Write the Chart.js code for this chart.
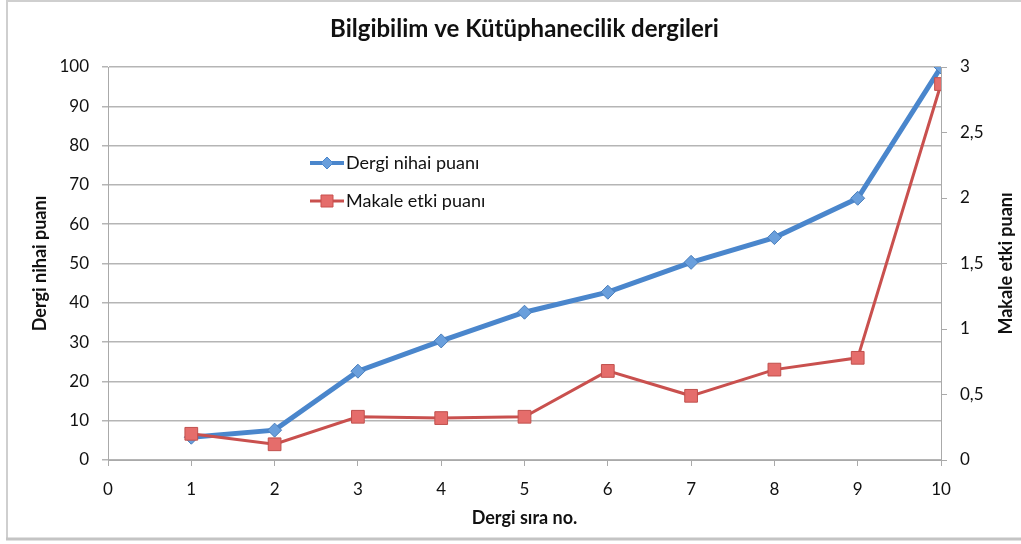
<!DOCTYPE html>
<html>
<head>
<meta charset="utf-8">
<script src="https://cdn.jsdelivr.net/npm/chart.js@4/dist/chart.umd.min.js"></script>
<style>
  html, body { margin: 0; padding: 0; background: #fff; }
  #wrap { width: 1021px; height: 544px; position: relative; }
</style>
</head>
<body>
<div id="wrap"><canvas id="chart"></canvas></div>
<script>
// data
const siraNo = [1, 2, 3, 4, 5, 6, 7, 8, 9, 10];
const dergiNihaiPuani = [5.8, 7.6, 22.6, 30.3, 37.6, 42.7, 50.3, 56.6, 66.6, 100];
const makaleEtkiPuani = [0.20, 0.12, 0.33, 0.32, 0.33, 0.68, 0.49, 0.69, 0.78, 2.87];

const chartTitle = 'Bilgibilim ve Kütüphanecilik dergileri';
const xTitle = 'Dergi sıra no.';
const yTitle = 'Dergi nihai puanı';
const y2Title = 'Makale etki puanı';

const BLUE = '#4A86CC';
const BLUE_PT = '#6A9FDC';
const RED = '#C9504E';
const RED_PT = '#E56D6B';
const FONT = 'Lato, "Open Sans", sans-serif';

const toPoints = (ys) => siraNo.map((x, i) => ({ x: x, y: ys[i] }));
const comma = (v) => String(v).replace('.', ',');

// white page with the grey frame of the chart box
const framePlugin = {
    id: 'frame',
    beforeDraw(chart) {
        const ctx = chart.ctx;
        ctx.save();
        ctx.fillStyle = '#fff';
        ctx.fillRect(0, 0, chart.width, chart.height);
        ctx.strokeStyle = '#cfcfcf';
        ctx.lineWidth = 2;
        ctx.beginPath();
        ctx.moveTo(7, 538);
        ctx.lineTo(7, 1);
        ctx.lineTo(chart.width, 1);
        ctx.stroke();
        ctx.lineWidth = 3;
        ctx.strokeStyle = '#c4c4c4';
        ctx.beginPath();
        ctx.moveTo(6, 539);
        ctx.lineTo(chart.width, 539);
        ctx.stroke();
        ctx.restore();
    }
};

// title over the plot, legend inside the plot, right axis title reading upwards
const extrasPlugin = {
    id: 'extras',
    afterDraw(chart) {
        const ctx = chart.ctx;
        const area = chart.chartArea;
        ctx.save();
        ctx.fillStyle = '#111';
        ctx.font = 'bold 24px ' + FONT;
        ctx.textAlign = 'center';
        ctx.textBaseline = 'alphabetic';
        ctx.fillText(chartTitle, (area.left + area.right) / 2, 37);

        const items = [
            { label: yTitle, y: 163, color: BLUE, fill: BLUE_PT, width: 4, shape: 'diamond' },
            { label: y2Title, y: 201, color: RED, fill: RED_PT, width: 3, shape: 'square' }
        ];
        items.forEach(it => {
            ctx.strokeStyle = it.color;
            ctx.lineWidth = it.width;
            ctx.beginPath();
            ctx.moveTo(310, it.y);
            ctx.lineTo(344, it.y);
            ctx.stroke();
            ctx.fillStyle = it.fill;
            ctx.lineWidth = 1;
            ctx.beginPath();
            if (it.shape === 'diamond') {
                ctx.moveTo(327, it.y - 6);
                ctx.lineTo(333, it.y);
                ctx.lineTo(327, it.y + 6);
                ctx.lineTo(321, it.y);
                ctx.closePath();
            } else {
                ctx.rect(321, it.y - 6, 12, 12);
            }
            ctx.fill();
            ctx.stroke();
            ctx.fillStyle = '#111';
            ctx.font = '18px ' + FONT;
            ctx.textAlign = 'left';
            ctx.textBaseline = 'middle';
            ctx.fillText(it.label, 346, it.y);
        });

        ctx.translate(1006, (area.top + area.bottom) / 2);
        ctx.rotate(-Math.PI / 2);
        ctx.font = 'bold 18px ' + FONT;
        ctx.textAlign = 'center';
        ctx.textBaseline = 'middle';
        ctx.fillStyle = '#111';
        ctx.fillText(y2Title, 0, 0);
        ctx.restore();
    }
};

const ctx = document.getElementById('chart');

new Chart(ctx, {
    type: 'line',
    data: {
        datasets: [{
            label: y2Title,
            data: toPoints(makaleEtkiPuani),
            yAxisID: 'y2',
            borderColor: RED,
            borderWidth: 3,
            pointStyle: 'rect',
            pointRadius: 9,
            pointBackgroundColor: RED_PT,
            pointBorderColor: '#C0504D',
            pointBorderWidth: 1,
            tension: 0,
            order: 0
        }, {
            label: yTitle,
            data: toPoints(dergiNihaiPuani),
            yAxisID: 'y',
            borderColor: BLUE,
            borderWidth: 5,
            pointStyle: 'rectRot',
            pointRadius: 7,
            pointBackgroundColor: BLUE_PT,
            pointBorderColor: '#4A7EBB',
            pointBorderWidth: 1,
            tension: 0,
            order: 1
        }]
    },
    options: {
        responsive: true,
        maintainAspectRatio: false,
        animation: false,
        layout: { padding: { top: 67, left: 0, right: 0, bottom: 0 } },
        plugins: {
            legend: { display: false },
            tooltip: { enabled: false },
            title: { display: false }
        },
        scales: {
            x: {
                type: 'linear',
                min: 0,
                max: 10,
                ticks: {
                    stepSize: 1,
                    color: '#111',
                    padding: 13,
                    font: { family: FONT, size: 17 }
                },
                grid: { drawOnChartArea: false, drawTicks: true, tickLength: 6, color: '#aaa' },
                border: { color: '#aaa', width: 1 },
                title: {
                    display: true,
                    text: xTitle,
                    color: '#111',
                    font: { family: FONT, size: 18, weight: 'bold', lineHeight: 1.2 },
                    padding: { top: 0, bottom: 15 }
                },
                afterFit: (scale) => { scale.height = 84; }
            },
            y: {
                position: 'left',
                min: 0,
                max: 100,
                ticks: {
                    stepSize: 10,
                    color: '#111',
                    padding: 13,
                    font: { family: FONT, size: 17 }
                },
                grid: { color: '#b5b5b5', lineWidth: 1.5, tickLength: 6 },
                border: { color: '#aaa', width: 1 },
                title: {
                    display: true,
                    text: yTitle,
                    color: '#111',
                    font: { family: FONT, size: 18, weight: 'bold', lineHeight: 1.2 },
                    padding: { top: 29, bottom: 0 }
                },
                afterFit: (scale) => { scale.width = 108; }
            },
            y2: {
                position: 'right',
                min: 0,
                max: 3,
                ticks: {
                    stepSize: 0.5,
                    color: '#111',
                    padding: 13,
                    font: { family: FONT, size: 17 },
                    callback: (v) => comma(v)
                },
                grid: { drawOnChartArea: false, tickLength: 6, color: '#aaa' },
                border: { color: '#aaa', width: 1 },
                afterFit: (scale) => { scale.width = 80; }
            }
        }
    },
    plugins: [framePlugin, extrasPlugin]
});
</script>
</body>
</html>
